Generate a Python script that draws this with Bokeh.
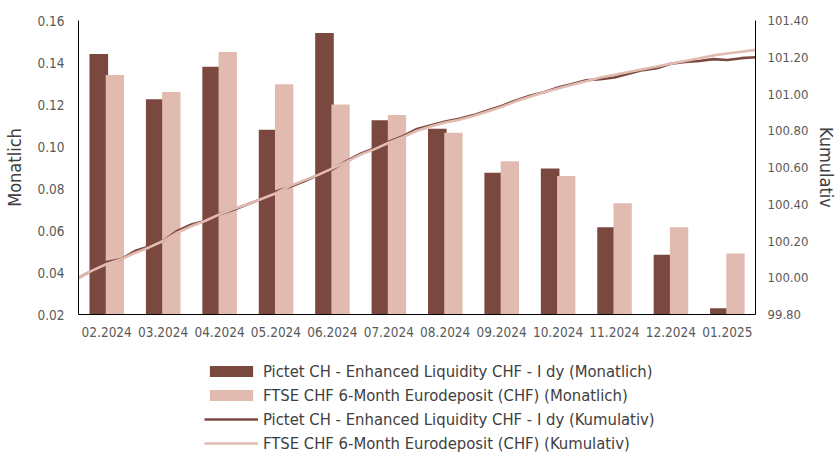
from bokeh.plotting import figure
from bokeh.layouts import column
from bokeh.models import (Range1d, LinearAxis, FixedTicker, Legend, LegendItem,
                          PrintfTickFormatter)
from bokeh.embed import file_html
from bokeh.resources import INLINE

# ---------------- data ----------------
months = ["02.2024", "03.2024", "04.2024", "05.2024", "06.2024", "07.2024",
          "08.2024", "09.2024", "10.2024", "11.2024", "12.2024", "01.2025"]

pictet_monthly = [0.144, 0.1225, 0.138, 0.108, 0.154, 0.1125,
                  0.1085, 0.0875, 0.0895, 0.0615, 0.0485, 0.023]
ftse_monthly = [0.134, 0.126, 0.145, 0.1297, 0.120, 0.115,
                0.1065, 0.093, 0.086, 0.073, 0.0615, 0.049]

# cumulative index, read every quarter month (Feb 2024 -> end Jan 2025)
pictet_cum = [100.00, 100.04, 100.085, 100.10, 100.145, 100.17, 100.20, 100.255,
              100.29, 100.31, 100.345, 100.37, 100.40, 100.43, 100.47, 100.495,
              100.525, 100.56, 100.59, 100.635, 100.675, 100.705, 100.74, 100.77,
              100.81, 100.83, 100.85, 100.865, 100.885, 100.91, 100.935, 100.965,
              100.99, 101.01, 101.035, 101.055, 101.075, 101.08, 101.09, 101.11,
              101.13, 101.14, 101.165, 101.175, 101.18, 101.19, 101.185, 101.195,
              101.20]
ftse_cum = [100.00, 100.04, 100.075, 100.10, 100.135, 100.165, 100.20, 100.245,
            100.28, 100.31, 100.345, 100.375, 100.40, 100.43, 100.46, 100.50,
            100.53, 100.56, 100.595, 100.63, 100.67, 100.70, 100.735, 100.765,
            100.80, 100.825, 100.845, 100.86, 100.88, 100.905, 100.93, 100.96,
            100.985, 101.01, 101.03, 101.05, 101.07, 101.09, 101.105, 101.12,
            101.135, 101.15, 101.165, 101.18, 101.195, 101.21, 101.22, 101.23,
            101.24]

left_ticks = [0.02, 0.04, 0.06, 0.08, 0.10, 0.12, 0.14, 0.16]
right_ticks = [99.8, 100.0, 100.2, 100.4, 100.6, 100.8, 101.0, 101.2, 101.4]

label_pictet_m = "Pictet CH - Enhanced Liquidity CHF - I dy (Monatlich)"
label_ftse_m = "FTSE CHF 6-Month Eurodeposit (CHF) (Monatlich)"
label_pictet_k = "Pictet CH - Enhanced Liquidity CHF - I dy (Kumulativ)"
label_ftse_k = "FTSE CHF 6-Month Eurodeposit (CHF) (Kumulativ)"

# ---------------- styles ----------------
DARK = "#7B4840"
LIGHT = "#E1BAB0"
FONT = "DejaVu Sans Condensed"
TICK_COLOR = "#595959"
LW = 2.6

centers = [i + 0.5 for i in range(len(months))]
x_dark = [c - 0.14 for c in centers]
x_light = [c + 0.145 for c in centers]
x_line = [k * len(months) / (len(pictet_cum) - 1) for k in range(len(pictet_cum))]

p = figure(width=840, height=340, output_backend="svg", toolbar_location=None,
           x_range=Range1d(0, len(months)), y_range=Range1d(0.02, 0.16),
           min_border_left=78, min_border_right=85, min_border_top=20,
           min_border_bottom=26)
p.outline_line_color = None
p.grid.grid_line_color = None
p.xaxis.visible = False
p.yaxis.visible = False

p.extra_y_ranges = {"kum": Range1d(99.8, 101.4)}

p.vbar(x=x_dark, top=pictet_monthly, bottom=0.0, width=0.33,
       fill_color=DARK, line_color=None)
p.vbar(x=x_light, top=ftse_monthly, bottom=0.0, width=0.325,
       fill_color=LIGHT, line_color=None)
p.line(x=x_line, y=pictet_cum, y_range_name="kum", line_color=DARK, line_width=LW)
p.line(x=x_line, y=ftse_cum, y_range_name="kum", line_color=LIGHT, line_width=LW)


def style_axis(ax, size="13.5px"):
    ax.axis_line_color = "black"
    ax.axis_line_width = 1
    ax.major_tick_line_color = None
    ax.minor_tick_line_color = None
    ax.major_tick_out = 0
    ax.major_tick_in = 0
    ax.minor_tick_out = 0
    ax.minor_tick_in = 0
    ax.major_label_text_font = FONT
    ax.major_label_text_font_size = size
    ax.major_label_text_color = TICK_COLOR
    ax.axis_label_text_font = FONT
    ax.axis_label_text_font_size = "18px"
    ax.axis_label_text_font_style = "normal"
    ax.axis_label_text_color = "#404040"


xax = LinearAxis(ticker=FixedTicker(ticks=centers),
                 major_label_overrides={c: m for c, m in zip(centers, months)})
style_axis(xax)
xax.major_label_standoff = 12
p.add_layout(xax, "below")

lax = LinearAxis(ticker=FixedTicker(ticks=left_ticks),
                 formatter=PrintfTickFormatter(format="%.2f"),
                 axis_label="Monatlich")
style_axis(lax)
lax.major_label_standoff = 14
lax.axis_label_standoff = 9
p.add_layout(lax, "left")

rax = LinearAxis(y_range_name="kum", ticker=FixedTicker(ticks=right_ticks),
                 formatter=PrintfTickFormatter(format="%.2f"),
                 axis_label="Kumulativ")
style_axis(rax, "13px")
rax.major_label_standoff = 12
rax.axis_label_standoff = 5
p.add_layout(rax, "right")

# ---------------- legend (separate strip below the chart) ----------------
lg = figure(width=840, height=112, output_backend="svg", toolbar_location=None,
            x_range=Range1d(0, 1), y_range=Range1d(0, 1),
            min_border_left=0, min_border_right=0, min_border_top=0,
            min_border_bottom=0)
lg.outline_line_color = None
lg.grid.grid_line_color = None
lg.xaxis.visible = False
lg.yaxis.visible = False

# legend-only renderers: one point each, placed outside the visible range
g1 = lg.vbar(x=[-5], top=[-5], width=0.3, fill_color=DARK, line_color=None)
g2 = lg.vbar(x=[-5], top=[-5], width=0.3, fill_color=LIGHT, line_color=None)
g3 = lg.line(x=[-5, -4], y=[-5, -5], line_color=DARK, line_width=LW)
g4 = lg.line(x=[-5, -4], y=[-5, -5], line_color=LIGHT, line_width=LW)

legend = Legend(items=[LegendItem(label=label_pictet_m, renderers=[g1]),
                       LegendItem(label=label_ftse_m, renderers=[g2]),
                       LegendItem(label=label_pictet_k, renderers=[g3]),
                       LegendItem(label=label_ftse_k, renderers=[g4])],
                location=(126, -3), orientation="vertical",
                glyph_width=54, glyph_height=14, label_height=24,
                label_standoff=5, spacing=0, padding=0, margin=0,
                border_line_color=None, background_fill_alpha=0,
                label_text_font=FONT, label_text_font_size="16.5px",
                label_text_color="#404040")
lg.add_layout(legend, "center")

open("out.html", "w").write(file_html(column(p, lg), INLINE))
